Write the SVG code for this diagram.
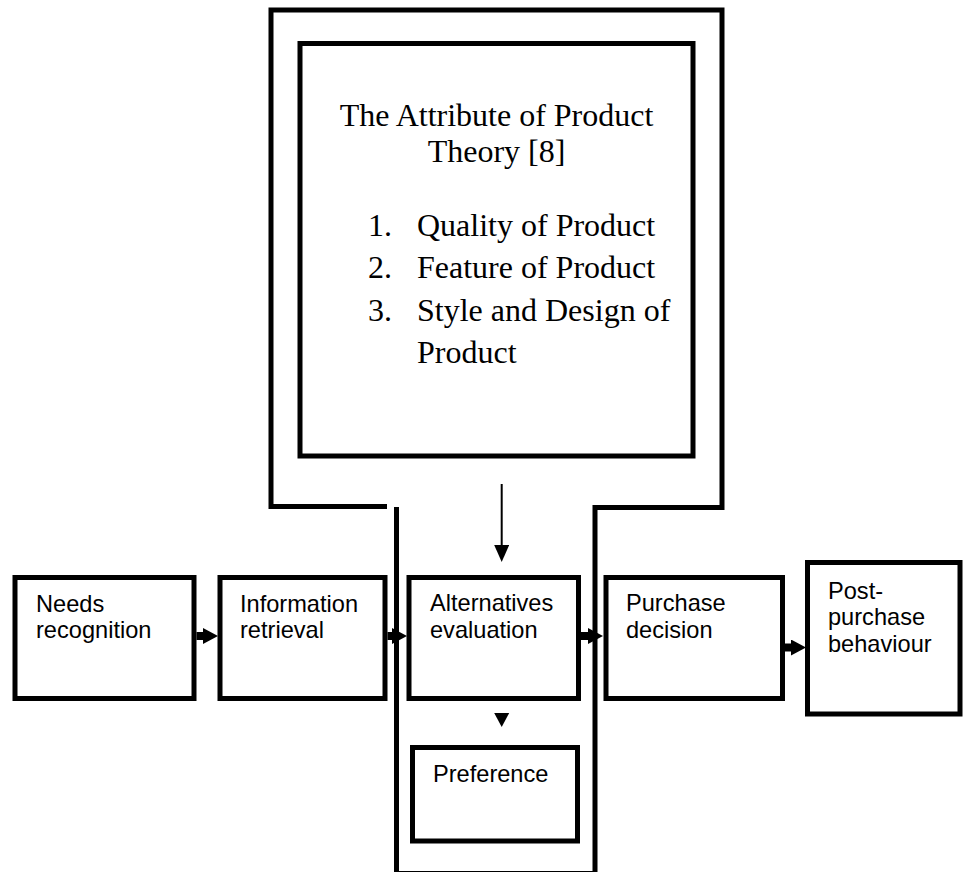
<svg xmlns="http://www.w3.org/2000/svg" width="964" height="872" viewBox="0 0 964 872">
<style>
.box{fill:#fff;stroke:#000;stroke-width:5}
.frame{fill:none;stroke:#000;stroke-width:5;stroke-linejoin:miter}
.lbl{font-family:"Liberation Sans",Arial,sans-serif;font-size:23.6px;fill:#000}
.ser{font-family:"Liberation Serif","Times New Roman",serif;font-size:32px;fill:#000}
.thick{fill:none;stroke:#000;stroke-width:8}
.thin{fill:none;stroke:#000;stroke-width:2}
</style>
<defs>
<marker id="hb" markerUnits="userSpaceOnUse" markerWidth="15" markerHeight="16" viewBox="0 0 15 16" refX="0" refY="8" orient="auto"><path d="M0,0 L15,8 L0,16 z" fill="#000"/></marker>
<marker id="hs" markerUnits="userSpaceOnUse" markerWidth="17" markerHeight="15" viewBox="0 0 17 15" refX="0" refY="7.5" orient="auto"><path d="M0,0 L17,7.5 L0,15 z" fill="#000"/></marker>
</defs>
<rect width="964" height="872" fill="#fff"/>
<g id="theory">
<path class="frame" d="M387,506.5 H271 V10 H722 V507.5 H595 V873.5 H396.5 V507"/>
<rect class="box" x="300" y="43.5" width="393" height="412.5"/>
<text class="ser" x="496.5" y="126" text-anchor="middle">The Attribute of Product</text>
<text class="ser" x="496.5" y="162" text-anchor="middle">Theory [8]</text>
<text class="ser" x="368" y="235.5">1.</text><text class="ser" x="417" y="235.5">Quality of Product</text>
<text class="ser" x="368" y="277.5">2.</text><text class="ser" x="417" y="277.5">Feature of Product</text>
<text class="ser" x="368" y="320.5">3.</text><text class="ser" x="417" y="320.5">Style and Design of</text>
<text class="ser" x="417" y="363">Product</text>
</g>
<g id="needs">
<rect class="box" x="15" y="577.5" width="179" height="121"/>
<text class="lbl" x="36" y="611.5">Needs</text>
<text class="lbl" x="36" y="638">recognition</text>
</g>
<g id="information">
<rect class="box" x="220" y="577.5" width="165" height="121"/>
<text class="lbl" x="240" y="611.5">Information</text>
<text class="lbl" x="240" y="638">retrieval</text>
</g>
<g id="alternatives">
<rect class="box" x="409" y="577.5" width="169.5" height="121"/>
<text class="lbl" x="430" y="611">Alternatives</text>
<text class="lbl" x="430" y="637.5">evaluation</text>
</g>
<g id="purchase">
<rect class="box" x="606" y="577.5" width="176.5" height="121"/>
<text class="lbl" x="626" y="611">Purchase</text>
<text class="lbl" x="626" y="637.5">decision</text>
</g>
<g id="post">
<rect class="box" x="807.5" y="562.5" width="152.5" height="151.5"/>
<text class="lbl" x="828" y="598.5">Post-</text>
<text class="lbl" x="828" y="625">purchase</text>
<text class="lbl" x="828" y="651.5">behaviour</text>
</g>
<g id="preference">
<rect class="box" x="412.5" y="747.5" width="165" height="93.5"/>
<text class="lbl" x="433" y="781.5">Preference</text>
</g>
<g id="connectors">
<path class="thick" d="M196.5,636 H203" marker-end="url(#hb)"/>
<path class="thick" d="M387.5,636 H392" marker-end="url(#hb)"/>
<path class="thick" d="M581,636 H588" marker-end="url(#hb)"/>
<path class="thick" d="M785,647.5 H791" marker-end="url(#hb)"/>
<path class="thin" d="M501.7,484 V545" marker-end="url(#hs)"/>
<polygon points="494.2,713 509.2,713 501.7,727" fill="#000"/>
</g>
</svg>
